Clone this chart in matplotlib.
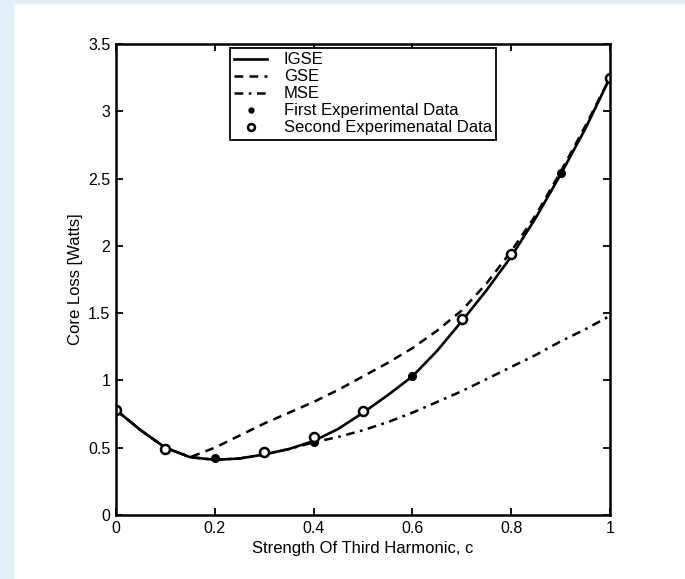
import numpy as np
import matplotlib
matplotlib.use("Agg")
import matplotlib.pyplot as plt
from matplotlib.patches import Rectangle

plt.rcParams['font.family'] = ['Liberation Sans', 'DejaVu Sans']

# curves at steps of 0.05
c_curve = [0.0, 0.05, 0.1, 0.15, 0.2, 0.25, 0.3, 0.35, 0.4, 0.45, 0.5,
           0.55, 0.6, 0.65, 0.7, 0.75, 0.8, 0.85, 0.9, 0.95, 1.0]
igse = [0.78, 0.63, 0.50, 0.43, 0.41, 0.42, 0.45, 0.49, 0.55, 0.64, 0.76,
        0.89, 1.03, 1.22, 1.44, 1.67, 1.92, 2.21, 2.53, 2.87, 3.25]
gse = [0.78, 0.63, 0.50, 0.43, 0.50, 0.59, 0.68, 0.76, 0.84, 0.93, 1.03,
       1.13, 1.24, 1.37, 1.52, 1.72, 1.96, 2.23, 2.55, 2.89, 3.25]
mse = [0.78, 0.63, 0.50, 0.43, 0.41, 0.42, 0.45, 0.49, 0.54, 0.58, 0.63,
       0.69, 0.76, 0.84, 0.92, 1.01, 1.10, 1.19, 1.29, 1.38, 1.48]

# experimental points
c_first = [0.1, 0.2, 0.4, 0.6, 0.9]
first = [0.49, 0.42, 0.54, 1.03, 2.54]
c_second = [0.0, 0.1, 0.3, 0.4, 0.5, 0.7, 0.8, 1.0]
second = [0.78, 0.49, 0.47, 0.58, 0.77, 1.46, 1.94, 3.25]

xticks = [0, 0.2, 0.4, 0.6, 0.8, 1]
xticklabels = ["0", "0.2", "0.4", "0.6", "0.8", "1"]
yticks = [0, 0.5, 1, 1.5, 2, 2.5, 3, 3.5]
yticklabels = ["0", "0.5", "1", "1.5", "2", "2.5", "3", "3.5"]

fig = plt.figure(figsize=(6.85, 5.79), dpi=100)
fig.patch.set_facecolor("white")
blue = "#e3f0fa"
fig.patches.append(Rectangle((0, 0), 13 / 685, 1, transform=fig.transFigure,
                             color=blue, zorder=-10))
fig.patches.append(Rectangle((0, 1 - 3 / 579), 1, 3 / 579, transform=fig.transFigure,
                             color=blue, zorder=-10))

ax = fig.add_axes([116 / 685, 64 / 579, 494 / 685, 471 / 579])

ax.plot(c_curve, igse, color="black", lw=1.9, label="IGSE")
ax.plot(c_curve, gse, color="black", lw=1.8, ls=(0, (3.5, 2.5)), label="GSE")
ax.plot(c_curve, mse, color="black", lw=1.8, ls=(0, (3.5, 2.2, 1.1, 2.2)), label="MSE")
ax.plot(c_first, first, ls="none", marker="o", ms=5.5, color="black",
        label="First Experimental Data")
ax.plot(c_second, second, ls="none", marker="o", ms=6.5, mfc="white", mec="black",
        mew=1.8, label="Second Experimenatal Data")

ax.set_xlim(0, 1)
ax.set_ylim(0, 3.5)
ax.set_xticks(xticks)
ax.set_xticklabels(xticklabels)
ax.set_yticks(yticks)
ax.set_yticklabels(yticklabels)
ax.tick_params(direction="in", length=5, width=1.3, top=True, right=True,
               labelsize=11.5, pad=4, colors="black")
for s in ax.spines.values():
    s.set_linewidth(1.8)

ax.set_xlabel("Strength Of Third Harmonic, c", fontsize=12, labelpad=4)
ax.set_ylabel("Core Loss [Watts]", fontsize=12, labelpad=4)

leg = ax.legend(loc="upper center", bbox_to_anchor=(0.5, 0.991), fontsize=12,
                handlelength=2.0, handletextpad=1.0, labelspacing=0.12,
                borderpad=0.25, fancybox=False, framealpha=1, edgecolor="black",
                borderaxespad=0)
leg.get_frame().set_linewidth(1.3)
# legend dot smaller, like the '.' marker of the source
leg.legend_handles[3].set_markersize(3.5)
leg.legend_handles[4].set_markersize(5)

fig.savefig("out.png", dpi=100)
